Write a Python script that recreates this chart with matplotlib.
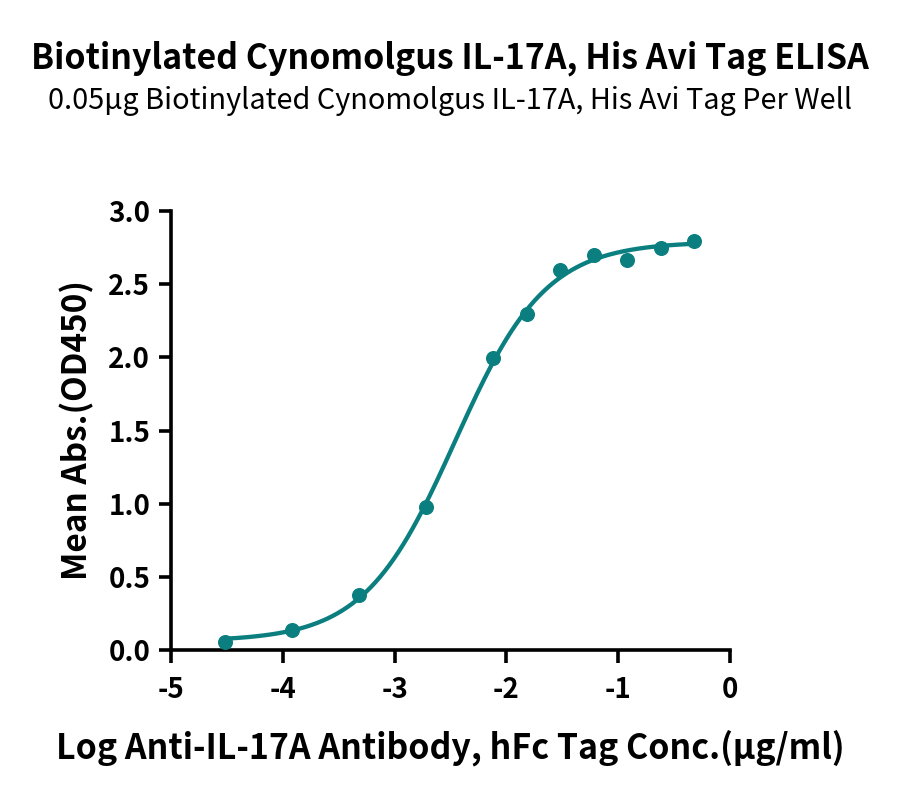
import numpy as np
import matplotlib
matplotlib.use("Agg")
import matplotlib.pyplot as plt

plt.rcParams['font.family'] = ['Noto Sans CJK SC', 'DejaVu Sans']

title = "Biotinylated Cynomolgus IL-17A, His Avi Tag ELISA"
subtitle = "0.05μg Biotinylated Cynomolgus IL-17A, His Avi Tag Per Well"
xlabel = "Log Anti-IL-17A Antibody, hFc Tag Conc.(μg/ml)"
ylabel = "Mean Abs.(OD450)"

log_conc = [-4.52, -3.92, -3.32, -2.72, -2.12, -1.82, -1.52, -1.22, -0.92, -0.62, -0.32]
od450 = [0.055, 0.137, 0.376, 0.977, 1.996, 2.297, 2.597, 2.700, 2.666, 2.748, 2.795]

# 4PL fit parameters (estimated)
fit_bottom = 0.06
fit_top = 2.79
fit_logec50 = -2.46
fit_hill = 1.07

xticks = [-5, -4, -3, -2, -1, 0]
yticks = [0.0, 0.5, 1.0, 1.5, 2.0, 2.5, 3.0]
color = "#0b7f80"

fig = plt.figure(figsize=(9, 7.95), dpi=100)
ax = fig.add_axes([171/900, 1-650/795, (730-171)/900, (650-211)/795])

xs = np.linspace(min(log_conc), max(log_conc), 400)
ys = fit_bottom + (fit_top - fit_bottom) / (1 + 10 ** ((fit_logec50 - xs) * fit_hill))
ax.plot(xs, ys, color=color, lw=3.1, zorder=2)
ax.plot(log_conc, od450, 'o', color=color, ms=9.8, zorder=3)

ax.set_xlim(-5, 0)
ax.set_ylim(0, 3.0)
ax.set_xticks(xticks)
ax.set_xticklabels([f"{t}" for t in xticks])
ax.set_yticks(yticks)
ax.set_yticklabels([f"{t:.1f}" for t in yticks])
for s in ['top', 'right']:
    ax.spines[s].set_visible(False)
for s in ['left', 'bottom']:
    ax.spines[s].set_linewidth(2.6)
ax.tick_params(width=2.6, length=9, labelsize=20, pad=6)
ax.tick_params(axis='x', pad=10)
for lab in ax.get_xticklabels() + ax.get_yticklabels():
    lab.set_fontweight('bold')

ax.set_xlabel(xlabel, fontsize=24.4, fontweight='bold', labelpad=18)
ax.set_ylabel(ylabel, fontsize=24, fontweight='bold', labelpad=10)

fig.text(0.5, 1-58/795, title, ha='center', va='center', fontsize=24.4, fontweight='bold')
fig.text(0.5, 1-101/795, subtitle, ha='center', va='center', fontsize=20.8)

fig.savefig("out.png", dpi=100)
